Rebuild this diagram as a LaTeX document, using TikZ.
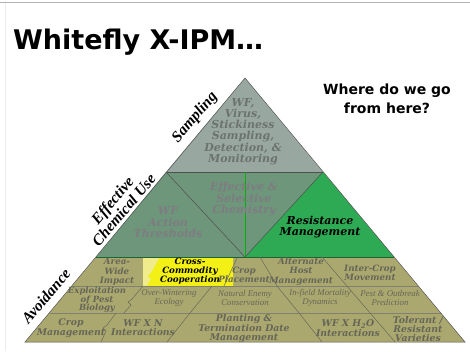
\documentclass[tikz,border=0pt]{standalone}
\usepackage{fontspec}
\setmainfont{DejaVu Serif}
\newfontfamily\titlefont{DejaVu Sans}
\newfontfamily\edgefont{Liberation Serif}
\newfontfamily\condfont{Liberation Serif}
\definecolor{topfill}{RGB}{152,168,160}
\definecolor{midfill}{RGB}{110,150,122}
\definecolor{resfill}{RGB}{46,170,84}
\definecolor{botfill}{RGB}{170,168,110}
\definecolor{ybright}{RGB}{242,240,20}
\definecolor{ypale}{RGB}{240,236,140}
\definecolor{toptext}{RGB}{108,114,112}
\definecolor{midtext}{RGB}{126,124,130}
\definecolor{bottext}{RGB}{102,102,88}
\definecolor{cellline}{RGB}{105,105,90}
\definecolor{outline}{RGB}{80,80,80}
\definecolor{dkgreen}{RGB}{30,100,50}
\tikzset{
  toptxt/.style={font=\bfseries\itshape\fontsize{11}{11.3}\selectfont, text=toptext, align=center, inner sep=0},
  midtxt/.style={font=\bfseries\itshape\fontsize{11}{11.5}\selectfont, text=midtext, align=center, inner sep=0},
  restxt/.style={font=\bfseries\itshape\fontsize{11}{10.5}\selectfont, text=black, align=center, inner sep=0},
  rowone/.style={font=\bfseries\itshape\fontsize{8.7}{9.3}\selectfont, text=bottext, align=center, inner sep=0},
  rowbold/.style={font=\bfseries\itshape\fontsize{8.5}{8.6}\selectfont, text=bottext, align=center, inner sep=0},
  rowcond/.style={font=\condfont\itshape\fontsize{8.8}{9}\selectfont, text=bottext, align=center, inner sep=0},
  rowthree/.style={font=\bfseries\itshape\fontsize{9.3}{9.3}\selectfont, text=bottext, align=center, inner sep=0},
  edgelbl/.style={font=\edgefont\bfseries\itshape\fontsize{15.5}{15}\selectfont, text=black, align=center, inner sep=0, rotate=49.6},
  cell/.style={draw=cellline, line width=0.5pt},
  rowsep/.style={draw=cellline!85, line width=0.6pt}
}
\begin{document}
\begin{tikzpicture}[x=1pt,y=-1pt]
\useasboundingbox (0,0) rectangle (470,351);
\fill[white] (0,0) rectangle (470,351);
% slide frame
\draw[gray!60, line width=0.8pt] (0,2.5) -- (470,2.5);
\draw[gray!15, line width=0.6pt] (5,2.5) -- (5,351);
% pyramid vertices
\coordinate (A) at (245,78);
\coordinate (T1) at (166,172);
\coordinate (T2) at (323,172);
\coordinate (M1) at (96,257);
\coordinate (M2) at (245,257);
\coordinate (M3) at (394,257);
\coordinate (B1) at (25,342);
\coordinate (B2) at (465,342);
% fills
\fill[topfill] (A) -- (T1) -- (T2) -- cycle;
\fill[midfill] (T1) -- (T2) -- (M3) -- (M1) -- cycle;
\fill[resfill] (T2) -- (M3) -- (M2) -- cycle;
\fill[botfill] (M1) -- (M3) -- (B2) -- (B1) -- cycle;
% yellow cell
\fill[ypale] (143,257) rectangle (233,286);
\fill[ybright] (160,257) -- (151,273) -- (148,276) -- (151,279) -- (147,286) -- (233,286) -- (233,257) -- cycle;
% middle band lines
\draw[outline, line width=0.5pt] (T1) -- (T2);
\draw[outline, line width=0.5pt] (T1) -- (M2);
\draw[outline, line width=0.5pt] (T2) -- (M2);
\draw[green!70!black, line width=0.5pt] (245,172) -- (M2);
\draw[dkgreen, line width=0.8pt] (M1) -- (M3);
% bottom band rows
\draw[rowsep] (72,286) -- (418,286);
\draw[rowsep] (49.5,313) -- (440.5,313);
% bottom band cell separators
\draw[cell] (237,258) -- (224,286);
\draw[cell] (260,257) -- (277,286) -- (299,313) -- (322,342);
\draw[cell] (322,257) -- (395,342);
\draw[cell] (212,286) -- (190,313) -- (167,342);
\draw[cell] (143,286) -- (132,299) -- (128,302) -- (131,305) -- (124,313);
\draw[cell] (116,313) -- (107,325) -- (103,328) -- (106,331) -- (101,342);
% outline
\draw[outline, line width=0.5pt] (A) -- (B1) -- (B2) -- cycle;
% title and question
\node[font=\titlefont\bfseries\fontsize{27}{27}\selectfont, anchor=base west, inner sep=0] (title) at (13,49) {Whitefly X-IPM\ldots};
\node[font=\titlefont\bfseries\fontsize{14}{19}\selectfont, align=center, anchor=base, inner sep=0] (q) at (387,113) {Where do we go\\from here?};
% edge labels
\node[edgelbl] (samp) at (195,117.5) {Sampling};
\node[edgelbl] (ecu) at (118,205) {Effective\\Chemical Use};
\node[edgelbl] (avoid) at (46,296) {Avoidance};
% top triangle
\node[toptxt] (wf) at (243,131.5) {WF,\\Virus,\\Stickiness\\Sampling,\\Detection, \&\\Monitoring};
% middle band
\node[midtxt] (chem) at (244,199.5) {Effective \&\\Selective\\Chemistry};
\node[midtxt] (thr) at (168,222.5) {WF\\Action\\Thresholds};
\node[restxt] (res) at (320,227) {Resistance\\Management};
% row 1
\node[rowone] (area) at (117,272) {Area-\\Wide\\Impact};
\node[rowone, text=black] (cross) at (190,271) {Cross-\\Commodity\\Cooperation};
\node[rowone] (place) at (244,274.5) {Crop\\Placement};
\node[rowone] (alt) at (301,271.5) {Alternate\\Host\\Management};
\node[rowone] (inter) at (370,272.5) {Inter-Crop\\Movement};
% row 2
\node[rowbold] (expl) at (97,300) {Exploitation\\of Pest\\Biology};
\node[rowcond] (over) at (169,298) {Over-Wintering\\Ecology};
\node[rowcond] (nat) at (245,298) {Natural Enemy\\Conservation};
\node[rowcond] (infield) at (320,298) {In-field Mortality\\Dynamics};
\node[rowcond] (pest) at (390,298) {Pest \& Outbreak\\Prediction};
% row 3
\node[rowthree] (cropm) at (71,328) {Crop\\Management};
\node[rowthree] (wfn) at (143,328) {WF X N\\Interactions};
\node[rowthree] (plant) at (244,328.5) {Planting \&\\Termination Date\\Management};
\node[rowthree] (wfh) at (348,328) {WF X H\textsubscript{2}O\\Interactions};
\node[rowthree] (tol) at (418,329) {Tolerant /\\Resistant\\Varieties};
\end{tikzpicture}
\end{document}
